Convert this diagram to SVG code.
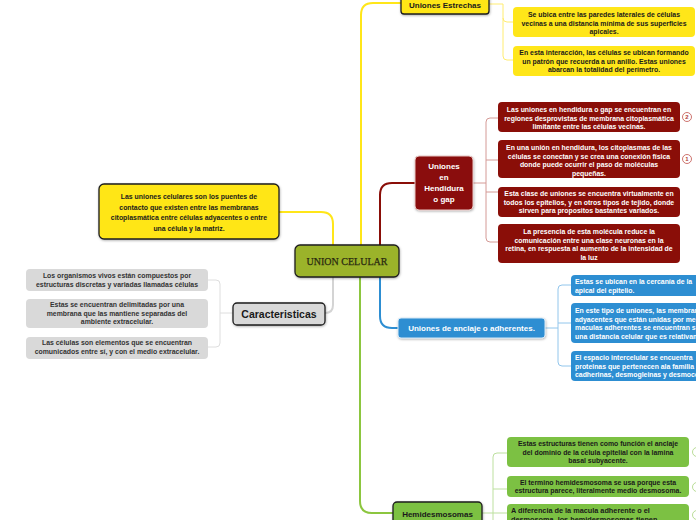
<svg xmlns="http://www.w3.org/2000/svg" width="696" height="520" viewBox="0 0 696 520">
<defs>
<style>
.t{font-family:"Liberation Sans",Arial,sans-serif;font-weight:bold;text-anchor:middle}
.s{font-size:6.9px}
.dk{fill:#1a1a1a}
.wh{fill:#ffffff}
.main{fill:none;stroke-width:2;stroke-linecap:round}
.sub{fill:none;stroke-width:1}
.bd{stroke:#1e1e1e;stroke-width:1.3}
.yl{fill:#ffe619}
.rd{fill:#8a0e08}
.bl{fill:#2d8ed2}
.gr{fill:#7cc143}
.gy{fill:#d9d9d9}
</style>
<filter id="sh" x="-10%" y="-10%" width="120%" height="130%">
<feDropShadow dx="0.5" dy="1" stdDeviation="0.8" flood-color="#000" flood-opacity="0.3"/>
</filter>
</defs>
<rect width="696" height="520" fill="#ffffff"/>

<g id="connectors">
<path class="main" stroke="#ffe619" d="M361 245 V15 Q361 3 373 3 H401"/>
<path class="main" stroke="#ffe619" d="M279 212 H321 Q333 212 333 224 V245"/>
<path class="main" stroke="#8a0e08" d="M380 245 V195 Q380 183 392 183 H415"/>
<path class="main" stroke="#2d8ed2" d="M380 277 V316 Q380 328 392 328 H398"/>
<path class="main" stroke="#8cc63f" d="M360 277 V501 Q360 513 372 513 H393"/>
<path class="main" stroke="#d4d4d4" d="M333 277 V305 Q333 313 325 313"/>
<path class="sub" stroke="#ffec70" d="M489 4 H503 V56 Q503 60 507 60 H513 M503 18 Q503 22 507 22 H513"/>
<path class="sub" stroke="#d49a96" d="M473 183 H486 M486 238 V122 Q486 118 490 118 H498 M486 238 Q486 242 490 242 H498 M486 160 H498 M486 192 H498"/>
<path class="sub" stroke="#92c6ec" d="M545 328 H558 M558 362 V289 Q558 285 562 285 H571 M558 362 Q558 366 562 366 H571 M558 323 H571"/>
<path class="sub" stroke="#bde09f" d="M482 513 H493 M493 520 V457 Q493 453 497 453 H507 M493 489 H507 M493 513 H507"/>
<path class="sub" stroke="#dedede" d="M233 313 H220 M220 343 V284 Q220 280 216 280 H208 M220 343 Q220 347 216 347 H208"/>
</g>

<g id="center">
<rect x="295" y="245" width="104" height="32" rx="5" fill="#9bb32c" class="bd" filter="url(#sh)"/>
<text x="347" y="265" font-family="'Liberation Serif','Times New Roman',serif" font-size="10" text-anchor="middle" fill="#2a2a10" stroke="#2a2a10" stroke-width="0.25">UNION CELULAR</text>
</g>

<g id="intro">
<rect x="99" y="184" width="180" height="55" rx="5" class="yl bd" filter="url(#sh)"/>
<text class="t s dk"><tspan x="189" y="199">Las uniones celulares son los puentes de</tspan><tspan x="189" y="209.5">contacto que existen entre las membranas</tspan><tspan x="189" y="220">citoplasmática entre células adyacentes o entre</tspan><tspan x="189" y="230.5">una célula y la matriz.</tspan></text>
</g>

<g id="uniones-estrechas">
<rect x="401" y="-6" width="88" height="20" rx="3" class="yl bd" filter="url(#sh)"/>
<text x="445" y="8" class="t dk" font-size="8">Uniones Estrechas</text>
</g>
<g id="ue-1">
<rect x="513" y="7" width="182" height="30" rx="4" class="yl"/>
<text class="t s dk"><tspan x="604" y="17">Se ubica entre las paredes laterales de células</tspan><tspan x="604" y="25.5">vecinas a una distancia mínima de sus superficies</tspan><tspan x="604" y="34">apicales.</tspan></text>
</g>
<g id="ue-2">
<rect x="513" y="46" width="182" height="30" rx="4" class="yl"/>
<text class="t s dk"><tspan x="604" y="55">En esta interacción, las células se ubican formando</tspan><tspan x="604" y="63.5">un patrón que recuerda a un anillo. Estas uniones</tspan><tspan x="604" y="72">abarcan la totalidad del perímetro.</tspan></text>
</g>

<g id="hendidura">
<rect x="415" y="156" width="58" height="54" rx="4" class="rd" stroke="#e8c8c6" stroke-width="1" filter="url(#sh)"/>
<text class="t wh" font-size="8"><tspan x="444" y="169">Uniones</tspan><tspan x="444" y="180">en</tspan><tspan x="444" y="191">Hendidura</tspan><tspan x="444" y="202">o gap</tspan></text>
</g>
<g id="hg-1">
<rect x="498" y="102" width="182" height="30" rx="4" class="rd"/>
<text class="t s wh"><tspan x="589" y="112">Las uniones en hendidura o gap se encuentran en</tspan><tspan x="589" y="120.5">regiones desprovistas de membrana citoplasmática</tspan><tspan x="589" y="129">limitante entre las células vecinas.</tspan></text>
</g>
<g id="hg-2">
<rect x="498" y="140" width="182" height="38" rx="4" class="rd"/>
<text class="t s wh"><tspan x="589" y="150">En una unión en hendidura, los citoplasmas de las</tspan><tspan x="589" y="158.5">células se conectan y se crea una conexión física</tspan><tspan x="589" y="167">donde puede ocurrir el paso de moléculas</tspan><tspan x="589" y="175.5">pequeñas.</tspan></text>
</g>
<g id="hg-3">
<rect x="498" y="187" width="182" height="30" rx="4" class="rd"/>
<text class="t s wh"><tspan x="589" y="196">Esta clase de uniones se encuentra virtualmente en</tspan><tspan x="589" y="204.5">todos los epitelios, y en otros tipos de tejido, donde</tspan><tspan x="589" y="213">sirven para propositos bastantes variados.</tspan></text>
</g>
<g id="hg-4">
<rect x="498" y="224" width="182" height="39" rx="4" class="rd"/>
<text class="t s wh"><tspan x="589" y="234">La presencia de esta molécula reduce la</tspan><tspan x="589" y="242.5">comunicación entre una clase neuronas en la</tspan><tspan x="589" y="251">retina, en respuesta al aumento de la intensidad de</tspan><tspan x="589" y="259.5">la luz</tspan></text>
</g>
<g id="badge-2">
<circle cx="687" cy="117" r="4.5" fill="#fff" stroke="#c0504a" stroke-width="0.8"/>
<text x="687" y="119.3" class="t" font-size="6" fill="#b0403a">2</text>
</g>
<g id="badge-1">
<circle cx="687" cy="159" r="4.5" fill="#fff" stroke="#c0504a" stroke-width="0.8"/>
<text x="687" y="161.3" class="t" font-size="6" fill="#b0403a">1</text>
</g>

<g id="caracteristicas">
<rect x="233" y="303" width="92" height="22" rx="4" class="bd" fill="#d9d9d9" filter="url(#sh)"/>
<text x="279" y="318" class="t dk" font-size="10.5">Caracteristicas</text>
</g>
<g id="c-1">
<rect x="26" y="269" width="182" height="22" rx="4" class="gy"/>
<text class="t s" fill="#333"><tspan x="117" y="278">Los organismos vivos están compuestos por</tspan><tspan x="117" y="286.5">estructuras discretas y variadas llamadas células</tspan></text>
</g>
<g id="c-2">
<rect x="26" y="299" width="182" height="29" rx="4" class="gy"/>
<text class="t s" fill="#333"><tspan x="117" y="307">Estas se encuentran delimitadas por una</tspan><tspan x="117" y="315.5">membrana que las mantiene separadas del</tspan><tspan x="117" y="324">ambiente extracelular.</tspan></text>
</g>
<g id="c-3">
<rect x="26" y="337" width="182" height="22" rx="4" class="gy"/>
<text class="t s" fill="#333"><tspan x="117" y="345">Las células son elementos que se encuentran</tspan><tspan x="117" y="353.5">comunicados entre sí, y con el medio extracelular.</tspan></text>
</g>

<g id="anclaje">
<rect x="398" y="318" width="147" height="20" rx="3" class="bl" stroke="#d6e8f6" stroke-width="1" filter="url(#sh)"/>
<text x="471.5" y="331" class="t wh" font-size="8">Uniones de anclaje o adherentes.</text>
</g>
<g id="a-1">
<rect x="571" y="275" width="140" height="21" rx="4" class="bl"/>
<text class="t s wh" style="text-anchor:start"><tspan x="575" y="284">Estas se ubican en la cercanía de la</tspan><tspan x="575" y="292.5">apical del epitelio.</tspan></text>
</g>
<g id="a-2">
<rect x="571" y="303" width="140" height="40" rx="4" class="bl"/>
<text class="t s wh" style="text-anchor:start"><tspan x="575" y="313">En este tipo de uniones, las membranas</tspan><tspan x="575" y="321.5">adyacentes que están unidas por medio</tspan><tspan x="575" y="330">maculas adherentes se encuentran separadas</tspan><tspan x="575" y="338.5">una distancia celular que es relativamente</tspan></text>
</g>
<g id="a-3">
<rect x="571" y="351" width="140" height="30" rx="4" class="bl"/>
<text class="t s wh" style="text-anchor:start"><tspan x="575" y="360">El espacio intercelular se encuentra</tspan><tspan x="575" y="368.5">proteinas que pertenecen ala familia</tspan><tspan x="575" y="377">cadherinas, desmogleinas y desmocolinas</tspan></text>
</g>

<g id="hemidesmosomas">
<rect x="393" y="502" width="89" height="25" rx="4" class="gr bd" filter="url(#sh)"/>
<text x="437.5" y="517" class="t dk" font-size="8">Hemidesmosomas</text>
</g>
<g id="h-1">
<rect x="507" y="437" width="182" height="30" rx="4" class="gr"/>
<text class="t s dk"><tspan x="598" y="446">Estas estructuras tienen como función el anclaje</tspan><tspan x="598" y="454.5">del dominio de la célula epitelial con la lamina</tspan><tspan x="598" y="463">basal subyacente.</tspan></text>
</g>
<g id="h-2">
<rect x="507" y="476" width="182" height="21" rx="4" class="gr"/>
<text class="t s dk"><tspan x="598" y="484.5">El  termino  hemidesmosoma se usa porque esta</tspan><tspan x="598" y="493">estructura parece, literalmente medio desmosoma.</tspan></text>
</g>
<g id="h-3">
<rect x="507" y="504" width="182" height="30" rx="4" class="gr"/>
<text class="t dk" font-size="7.3" style="text-anchor:start"><tspan x="511" y="513">A diferencia de la macula adherente o el</tspan><tspan x="511" y="522">desmosoma, los hemidesmosomas tienen</tspan></text>
</g>
<g id="badges-green">
<circle cx="697" cy="452" r="4.5" fill="#fff" stroke="#a8d47e" stroke-width="0.8"/>
<circle cx="697" cy="487" r="4.5" fill="#fff" stroke="#a8d47e" stroke-width="0.8"/>
<circle cx="697" cy="515" r="4.5" fill="#fff" stroke="#a8d47e" stroke-width="0.8"/>
</g>
</svg>
